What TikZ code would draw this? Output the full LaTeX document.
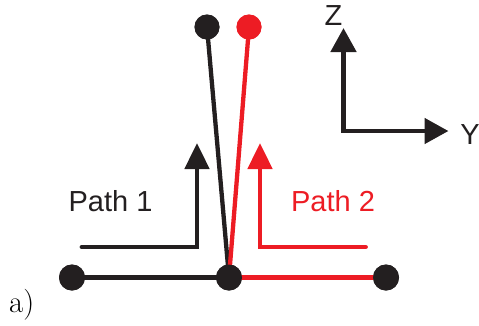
\documentclass[tikz,border=0pt]{standalone}
\usepackage{fontspec}
\newfontfamily\lab{Liberation Sans}
\usetikzlibrary{arrows.meta}
\definecolor{ink}{HTML}{231F20}
\definecolor{rd}{HTML}{ED1C24}
\begin{document}
\begin{tikzpicture}[x=1pt,y=-1pt,
  dot/.style={circle,fill=ink,inner sep=0pt,minimum size=#1},
  dot/.default=26pt,
  rdot/.style={circle,fill=rd,inner sep=0pt,minimum size=25pt},
  bar/.style={line width=4.3pt},
  arr/.style={line width=4.8pt,line join=miter,line cap=round,-{Triangle[width=24pt,length=26pt]}},
  axis/.style={line width=4.8pt,line join=miter,{Triangle[width=25pt,length=24pt]}-{Triangle[width=25pt,length=24pt]}},
  txt/.style={font=\lab\fontsize{29}{34}\selectfont,inner sep=0pt,anchor=base}]
\useasboundingbox (0,0) rectangle (479,325);
% dots
\node[dot] (L) at (72,277.5) {};
\node[dot] (C) at (229,277.5) {};
\node[dot] (R) at (386,277.5) {};
\node[dot=25pt] (TB) at (207,27) {};
\node[rdot] (TR) at (249,27) {};
% skeleton lines
\draw[bar,ink] (L.center) -- (C.center);
\draw[bar,rd] (C.center) -- (R.center);
\draw[bar,ink] (TB.center) -- (C.center);
\draw[bar,rd] (TR.center) -- (C.center);
\node[dot] at (C) {};
\node[dot] at (L) {};
\node[dot] at (R) {};
\node[dot=25pt] at (TB) {};
\node[rdot] at (TR) {};
% path arrows
\coordinate (p1s) at (82,247);
\coordinate (p1c) at (197,247);
\coordinate (p1e) at (197,143);
\draw[arr,ink] (p1s) -- (p1c) -- (p1e);
\coordinate (p2s) at (365.5,247);
\coordinate (p2c) at (260,247);
\coordinate (p2e) at (260,143);
\draw[arr,rd] (p2s) -- (p2c) -- (p2e);
\node[txt,text=ink] (t1) at (110.5,211) {Path 1};
\node[txt,text=rd] (t2) at (333,211) {Path 2};
% axes
\coordinate (O) at (343.5,131);
\coordinate (Zt) at (343.5,28);
\coordinate (Yt) at (448.5,131);
\draw[axis,ink] (Zt) -- (O) -- (Yt);
\node[txt,text=ink] (Z) at (333.5,25) {Z};
\node[txt,text=ink] (Y) at (470,144) {Y};
% label
\node[anchor=base west,inner sep=0pt,font=\fontsize{31}{36}\selectfont] (a) at (9,312) {a)};
\end{tikzpicture}
\end{document}
